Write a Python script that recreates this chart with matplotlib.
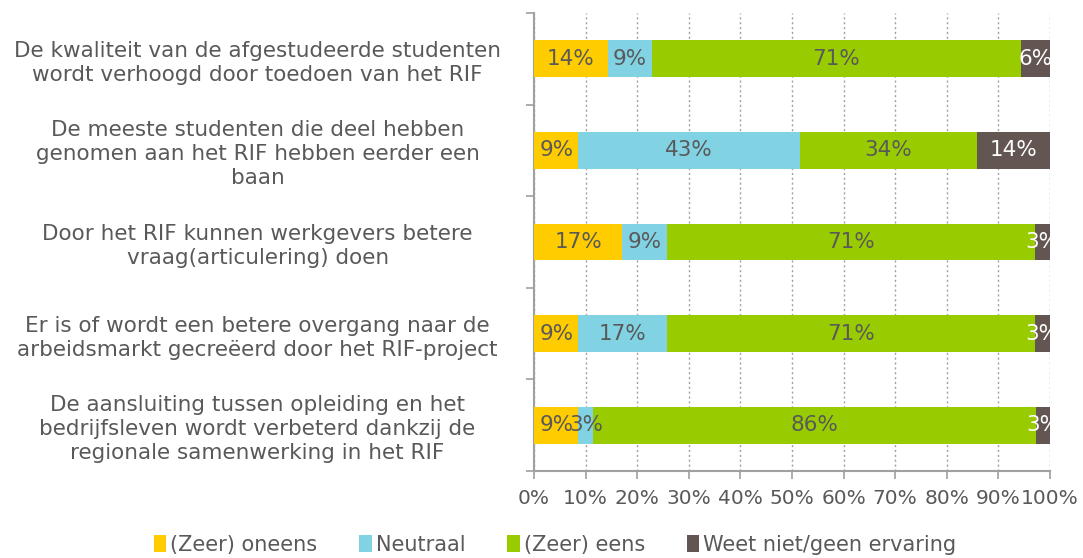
import matplotlib
matplotlib.use("Agg")
import matplotlib.pyplot as plt
import numpy as np

categories = [
    "De kwaliteit van de afgestudeerde studenten\nwordt verhoogd door toedoen van het RIF",
    "De meeste studenten die deel hebben\ngenomen aan het RIF hebben eerder een\nbaan",
    "Door het RIF kunnen werkgevers betere\nvraag(articulering) doen",
    "Er is of wordt een betere overgang naar de\narbeidsmarkt gecreëerd door het RIF-project",
    "De aansluiting tussen opleiding en het\nbedrijfsleven wordt verbeterd dankzij de\nregionale samenwerking in het RIF",
]
series_names = ["(Zeer) oneens", "Neutraal", "(Zeer) eens", "Weet niet/geen ervaring"]
zeer_oneens = [14.3, 8.6, 17.1, 8.6, 8.6]
neutraal = [8.6, 42.9, 8.6, 17.1, 2.9]
zeer_eens = [71.4, 34.3, 71.4, 71.4, 85.7]
weet_niet = [5.7, 14.3, 2.9, 2.9, 2.9]
xtick_labels = ["0%", "10%", "20%", "30%", "40%", "50%", "60%", "70%", "80%", "90%", "100%"]

colors = ["#FFCC00", "#81D3E3", "#99CC00", "#625552"]
label_colors = ["#595959", "#595959", "#595959", "#FFFFFF"]
txt = "#595959"

fig = plt.figure(figsize=(10.83, 5.58), dpi=100)
ax = fig.add_axes([534 / 1083, 1 - 471 / 558, 516 / 1083, 458 / 558])

series = [zeer_oneens, neutraal, zeer_eens, weet_niet]
y = np.arange(len(categories))
left = np.zeros(len(categories))
for vals, name, col, lc in zip(series, series_names, colors, label_colors):
    vals = np.array(vals)
    ax.barh(y, vals, left=left, height=0.4, color=col, label=name, zorder=3)
    for yi, l, v in zip(y, left, vals):
        ax.text(l + v / 2, yi, f"{round(v):.0f}%", ha="center", va="center",
                fontsize=15.5, color=lc, zorder=4)
    left = left + vals

ax.set_xlim(0, 100)
ax.set_ylim(len(categories) - 0.5, -0.5)
ax.set_xticks(np.arange(0, 101, 10))
ax.set_xticklabels(xtick_labels, fontsize=14.5, color=txt)
ax.set_yticks(np.arange(-0.5, len(categories), 1), minor=False)
ax.set_yticklabels([])
ax.set_yticks(y, minor=True)
ax.set_yticklabels(categories, minor=True, fontsize=15.5, color=txt, ha="center",
                   linespacing=1.25)
ax.tick_params(axis="y", which="minor", length=0, pad=199)
ax.tick_params(axis="y", which="major", length=6, color="#A0A0A0", width=1.2)
ax.tick_params(axis="x", length=6, color="#A0A0A0", width=1.2, pad=7)

ax.grid(axis="x", linestyle=(0, (1.5, 2)), color="#A0A0A0", linewidth=1, zorder=0)
for s in ["top", "right"]:
    ax.spines[s].set_visible(False)
for s in ["left", "bottom"]:
    ax.spines[s].set_color("#A0A0A0")
    ax.spines[s].set_linewidth(1.5)

leg = fig.legend(loc="center", bbox_to_anchor=(555 / 1083, 1 - 545 / 558), ncol=4,
                 frameon=False, fontsize=15, handlelength=0.6, handleheight=0.9,
                 handletextpad=0.2, columnspacing=2.0)
for t in leg.get_texts():
    t.set_color(txt)

fig.savefig("out.png", dpi=100)
